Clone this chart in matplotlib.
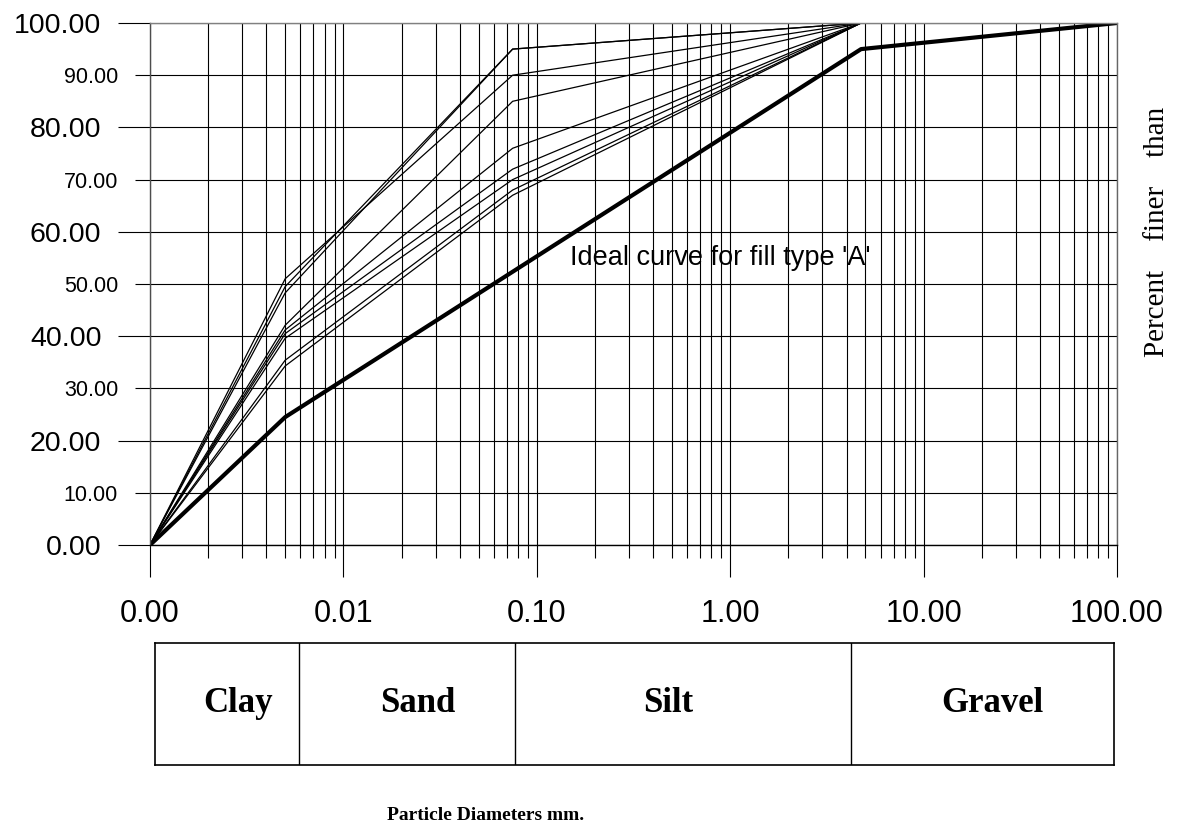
import numpy as np
import matplotlib
matplotlib.use('Agg')
import matplotlib.pyplot as plt
from matplotlib.ticker import FixedLocator, FuncFormatter, NullFormatter

# sieve sizes (mm) and percent finer for each sample
sieve = [0.001, 0.005, 0.075, 4.75]
samples = [
    [0, 51.0, 90, 100],
    [0, 49.5, 95, 100],
    [0, 48.3, 95, 100],
    [0, 42.1, 85, 100],
    [0, 41.2, 76, 100],
    [0, 40.5, 72, 100],
    [0, 39.6, 70, 100],
    [0, 35.4, 68, 100],
    [0, 34.3, 67, 100],
]
ideal_d = [0.001, 0.005, 4.75, 100]
ideal_p = [0, 24.5, 95, 100]

x_major = [0.001, 0.01, 0.1, 1, 10, 100]
y_major = [0, 20, 40, 60, 80, 100]
y_minor = [10, 30, 50, 70, 90]

soil_classes = ['Clay', 'Sand', 'Silt', 'Gravel']

sans = ['Liberation Sans', 'DejaVu Sans']
serif = ['Liberation Serif', 'DejaVu Serif']

fig = plt.figure(figsize=(11.84, 8.32), dpi=100)
ax = fig.add_axes([150/1184, 1-545/832, (1117-150)/1184, (545-23)/832])

for s in samples:
    ax.plot(sieve, s, color='k', lw=0.9, solid_joinstyle='miter')
ax.plot(ideal_d, ideal_p, color='k', lw=3.0)

ax.set_xscale('log')
ax.set_xlim(0.001, 100)
ax.set_ylim(0, 100)

ax.xaxis.set_major_locator(FixedLocator(x_major))
minor_x = [m * d for d in x_major[:-1] for m in range(2, 10)]
ax.xaxis.set_minor_locator(FixedLocator(minor_x))
ax.xaxis.set_major_formatter(FuncFormatter(lambda v, p: f'{v:.2f}'))
ax.xaxis.set_minor_formatter(NullFormatter())

ax.yaxis.set_major_locator(FixedLocator(y_major))
ax.yaxis.set_minor_locator(FixedLocator(y_minor))
ax.yaxis.set_major_formatter(FuncFormatter(lambda v, p: f'{v:.2f}'))
ax.yaxis.set_minor_formatter(FuncFormatter(lambda v, p: f'{v:.2f}'))

ax.grid(True, which='both', color='k', lw=0.8)
ax.set_axisbelow(True)

ax.tick_params(axis='x', which='major', direction='out', length=23, width=0.8,
               pad=16, labelsize=22)
ax.tick_params(axis='x', which='minor', direction='out', length=9.5, width=0.8)
ax.tick_params(axis='y', which='major', direction='out', length=23, width=0.8,
               pad=12, labelsize=20.5)
ax.tick_params(axis='y', which='minor', direction='out', length=11, width=0.8,
               pad=12, labelsize=15.5)
for lab in ax.get_xticklabels() + ax.get_yticklabels() + ax.get_yticklabels(minor=True):
    lab.set_family(sans)

ax.spines['top'].set_color('0.5')
ax.spines['right'].set_color('0.4')
ax.spines['left'].set_color('0.3')
ax.spines['bottom'].set_color('k')
for sp in ax.spines.values():
    sp.set_linewidth(1.0)

ax.text(0.149, 55, "Ideal curve for fill type 'A'", family=sans, fontsize=19.5,
        va='center', ha='left')

fig.text(1157/1184, 1-232/832, 'Percent    finer    than', family=serif,
         fontsize=21, rotation=90, ha='center', va='center')

# soil class box below the axis
bx = fig.add_axes([155/1184, 1-765/832, (1114-155)/1184, (765-643)/832])
bx.set_xlim(0, 1)
bx.set_ylim(0, 1)
bx.set_xticks([])
bx.set_yticks([])
for sp in bx.spines.values():
    sp.set_linewidth(1.2)
    sp.set_color('k')
dividers = [(299-155)/959, (515-155)/959, (851-155)/959]
for d in dividers:
    bx.axvline(d, color='k', lw=1.0)
label_x = [(238-155)/959, (418-155)/959, (668-155)/959, (992-155)/959]
for name, lx in zip(soil_classes, label_x):
    bx.text(lx, 0.5, name, family=serif, fontweight='bold', fontsize=25,
            ha='center', va='center')

fig.text(486/1184, 1-815/832, 'Particle Diameters mm.', family=serif,
         fontweight='bold', fontsize=14, ha='center', va='center')

fig.savefig('out.png', dpi=100)
